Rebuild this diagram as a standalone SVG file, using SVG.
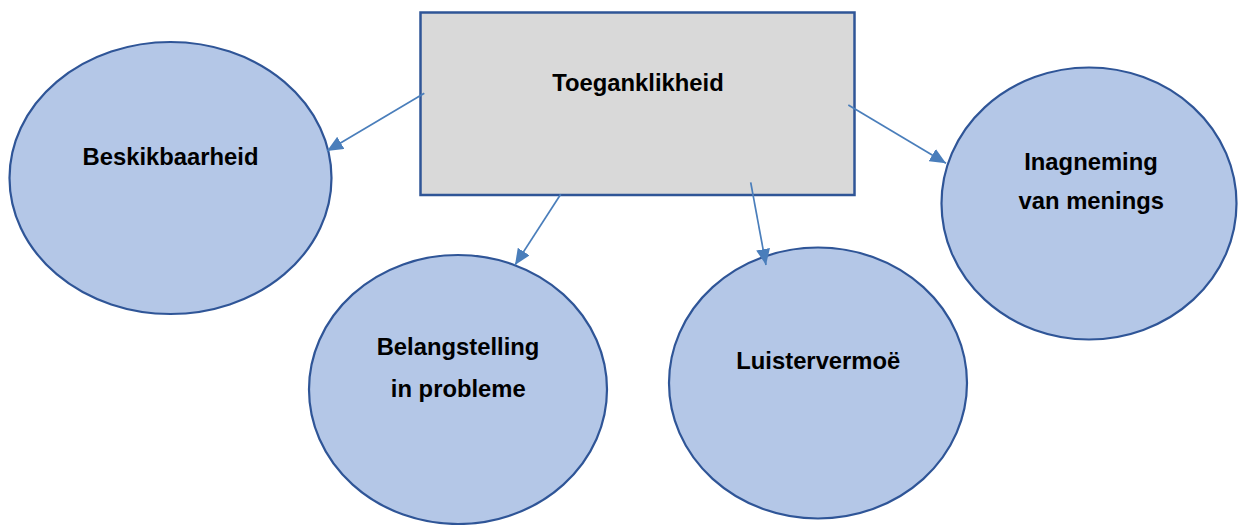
<svg xmlns="http://www.w3.org/2000/svg" width="1240" height="525" viewBox="0 0 1240 525">
  <style>
    .bubble { fill: #B4C7E7; stroke: #2F5597; stroke-width: 2.2; }
    .box { fill: #D9D9D9; stroke: #2F5597; stroke-width: 2.5; }
    .label { font-family: "Liberation Sans", Arial, sans-serif; font-weight: bold; font-size: 23.8px; fill: #000; text-anchor: middle; }
    .link { stroke: #4A7EBB; stroke-width: 1.7; fill: none; marker-end: url(#head); }
  </style>
  <defs>
    <marker id="head" markerUnits="userSpaceOnUse" markerWidth="16" markerHeight="14" refX="16" refY="7" orient="auto">
      <path d="M0,0 L16,7 L0,14 z" fill="#4A7EBB"/>
    </marker>
  </defs>
  <rect width="1240" height="525" fill="#fff"/>

  <g id="node-toeganklikheid">
    <rect class="box" x="420.5" y="12.5" width="434" height="182.5"/>
    <text class="label" x="638" y="90.5">Toeganklikheid</text>
  </g>

  <g id="node-beskikbaarheid">
    <ellipse class="bubble" cx="170.5" cy="178" rx="161" ry="136"/>
    <text class="label" x="170.5" y="165">Beskikbaarheid</text>
  </g>

  <g id="node-belangstelling">
    <ellipse class="bubble" cx="458" cy="389.5" rx="149" ry="134.5"/>
    <text class="label" x="458" y="355">Belangstelling</text>
    <text class="label" x="458.3" y="397">in probleme</text>
  </g>

  <g id="node-luistervermoe">
    <ellipse class="bubble" cx="818" cy="383" rx="149" ry="135.5"/>
    <text class="label" x="818.3" y="369">Luistervermoë</text>
  </g>

  <g id="node-inagneming">
    <ellipse class="bubble" cx="1089" cy="203.5" rx="147.5" ry="136"/>
    <text class="label" x="1091" y="170">Inagneming</text>
    <text class="label" x="1091.3" y="209">van menings</text>
  </g>

  <g id="connectors">
    <line class="link" x1="424.3" y1="93.3" x2="327" y2="151"/>
    <line class="link" x1="560.7" y1="194.3" x2="515" y2="265"/>
    <line class="link" x1="750.7" y1="182.3" x2="766" y2="265"/>
    <line class="link" x1="848.3" y1="105" x2="946" y2="163.3"/>
  </g>
</svg>
